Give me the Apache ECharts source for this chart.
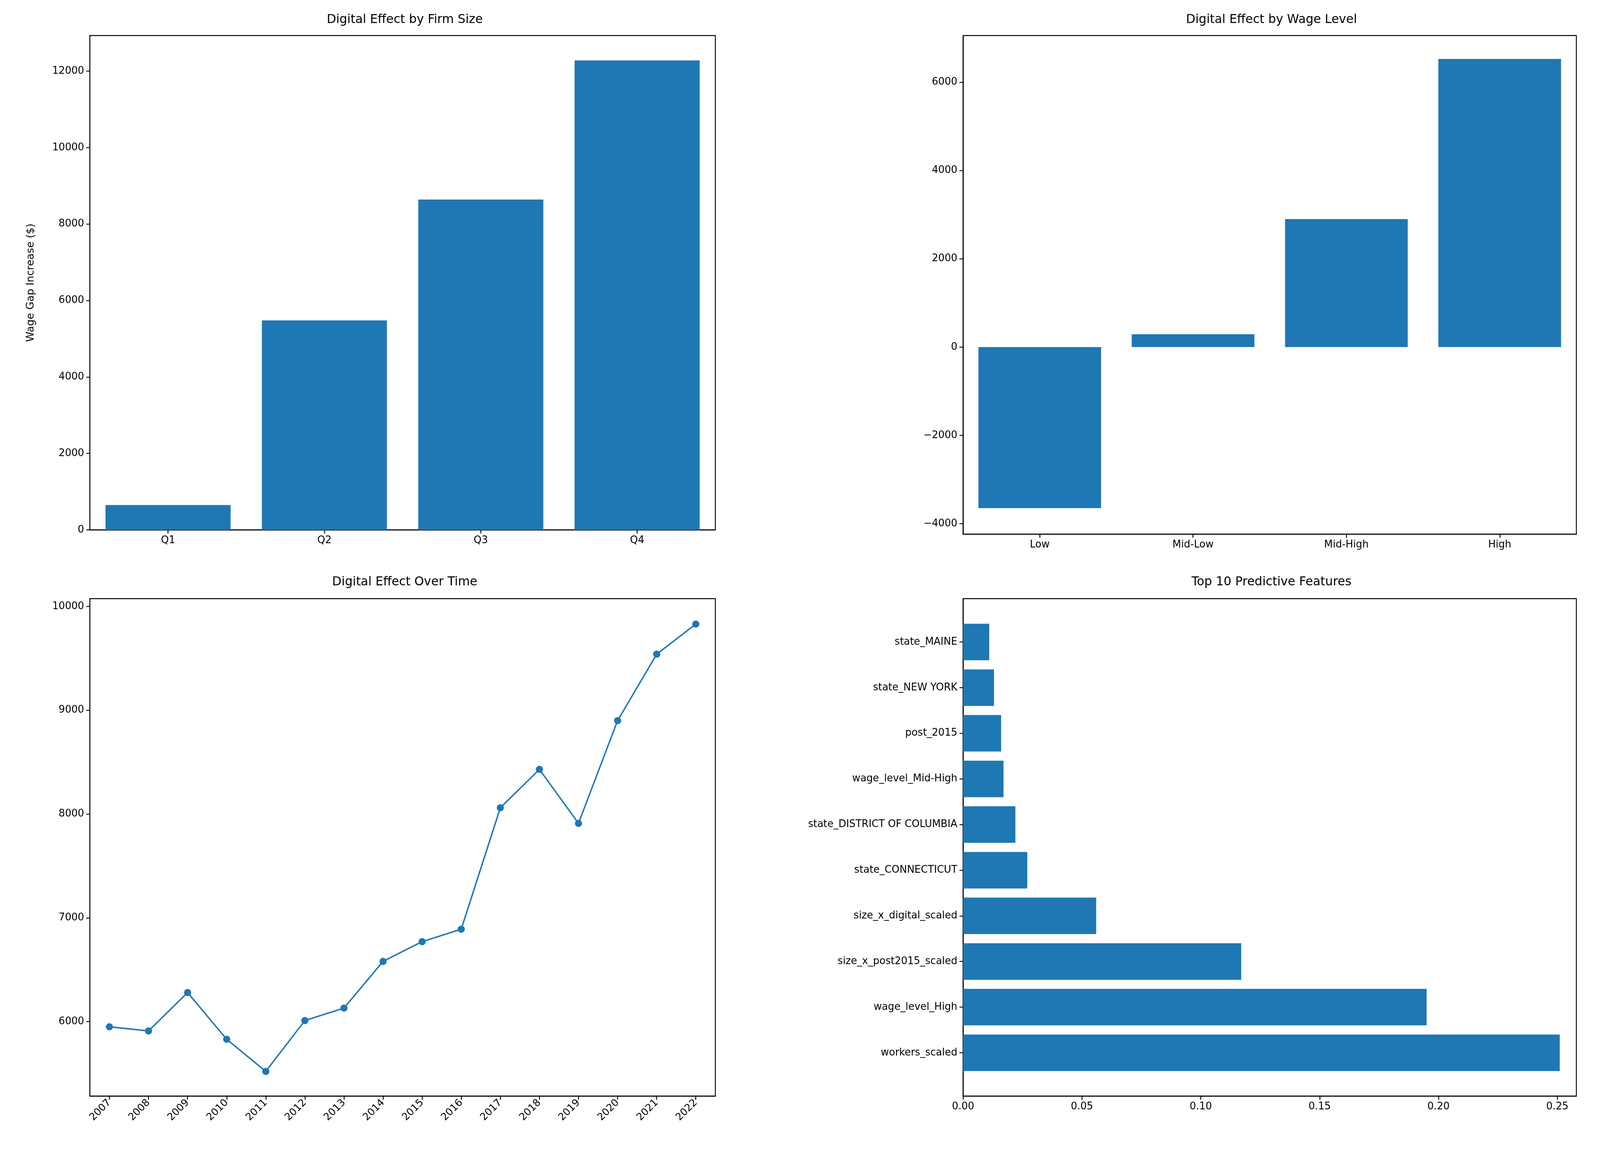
<!DOCTYPE html>
<html>
<head>
<meta charset="utf-8">
<script src="https://cdn.jsdelivr.net/npm/echarts@6/dist/echarts.min.js"></script>
<style>html,body{margin:0;padding:0;background:#fff;overflow:hidden}#main{width:100vw;height:100vh}</style>
</head>
<body>
<div id="main"></div>
<script>
var firmCats = ['Q1', 'Q2', 'Q3', 'Q4'];
var firmVals = [650, 5480, 8640, 12280];
var firmTicks = [0, 2000, 4000, 6000, 8000, 10000, 12000];
var wageCats = ['Low', 'Mid-Low', 'Mid-High', 'High'];
var wageVals = [-3650, 290, 2900, 6530];
var wageTicks = [-4000, -2000, 0, 2000, 4000, 6000];
var years = ['2007','2008','2009','2010','2011','2012','2013','2014','2015','2016','2017','2018','2019','2020','2021','2022'];
var yearVals = [5950, 5910, 6280, 5830, 5520, 6010, 6130, 6580, 6770, 6890, 8060, 8430, 7910, 8900, 9540, 9830];
var yearTicks = [6000, 7000, 8000, 9000, 10000];
var featNames = ['workers_scaled','wage_level_High','size_x_post2015_scaled','size_x_digital_scaled','state_CONNECTICUT','state_DISTRICT OF COLUMBIA','wage_level_Mid-High','post_2015','state_NEW YORK','state_MAINE'];
var featVals = [0.251, 0.195, 0.117, 0.056, 0.027, 0.022, 0.017, 0.016, 0.013, 0.011];
var featTicks = [0, 1, 2, 3, 4, 5, 6, 7, 8, 9];
var importanceTicks = [0, 0.05, 0.1, 0.15, 0.2, 0.25];

var blue = '#1f77b4';
var font = 'DejaVu Sans';
var el = document.getElementById('main');
var W = el.clientWidth, H = el.clientHeight;
var s = W / 4469, sy = H / 2968;
function px(v) { return v * s; }
function py(v) { return v * sy; }

var tickLabel = {color: '#000', fontSize: px(28), fontFamily: font, margin: px(16)};
var axisLine = {show: true, onZero: false, lineStyle: {color: '#000', width: px(2.5)}};
function ticks(vals) { return {show: true, length: px(10), customValues: vals, lineStyle: {color: '#000', width: px(2.5)}}; }
function labels(vals, extra) { return Object.assign({customValues: vals}, tickLabel, extra || {}); }
var frame = {show: true, borderColor: '#000', borderWidth: px(2.5), backgroundColor: 'transparent'};
function title(text, cx, top) {
    return {text: text, left: px(cx), top: py(top), textAlign: 'center',
        textStyle: {fontSize: px(34), fontWeight: 'normal', color: '#000', fontFamily: font}};
}
function minus(v) { return String(v).replace('-', '\u2212'); }

var myChart = echarts.init(el);
var option = {
    backgroundColor: '#fff',
    animation: false,
    title: [
        title('Digital Effect by Firm Size', 1125, 30),
        title('Digital Effect by Wage Level', 3546, 30),
        title('Digital Effect Over Time', 1125, 1470),
        title('Top 10 Predictive Features', 3546, 1470)
    ],
    grid: [
        Object.assign({left: px(251), width: px(1747), top: py(91), height: py(1266)}, frame),
        Object.assign({left: px(2690), width: px(1713), top: py(91), height: py(1277)}, frame),
        Object.assign({left: px(251), width: px(1747), top: py(1533), height: py(1274)}, frame),
        Object.assign({left: px(2690), width: px(1713), top: py(1533), height: py(1274)}, frame)
    ],
    xAxis: [
        {gridIndex: 0, type: 'category', data: firmCats, axisLine: axisLine, axisTick: {show: true, alignWithLabel: true, length: px(10), lineStyle: {color: '#000', width: px(2.5)}}, axisLabel: tickLabel},
        {gridIndex: 1, type: 'category', data: wageCats, axisLine: axisLine, axisTick: {show: true, alignWithLabel: true, length: px(10), lineStyle: {color: '#000', width: px(2.5)}}, axisLabel: tickLabel},
        {gridIndex: 2, type: 'category', data: years, boundaryGap: true, axisLine: axisLine, axisTick: {show: true, alignWithLabel: true, length: px(10), lineStyle: {color: '#000', width: px(2.5)}}, axisLabel: Object.assign({}, tickLabel, {rotate: 45, interval: 0, margin: px(14)})},
        {gridIndex: 3, type: 'value', min: 0, max: 0.258, splitLine: {show: false}, axisLine: axisLine, axisTick: ticks(importanceTicks),
            axisLabel: labels(importanceTicks, {formatter: function (v) { return v.toFixed(2); }})}
    ],
    yAxis: [
        {gridIndex: 0, type: 'value', min: 0, max: 12930, splitLine: {show: false}, axisLine: axisLine, axisTick: ticks(firmTicks),
            axisLabel: labels(firmTicks, {formatter: function (v) { return String(v); }}),
            name: 'Wage Gap Increase ($)', nameLocation: 'middle', nameGap: px(150), nameRotate: 90, nameTextStyle: {fontSize: px(29), color: '#000', fontFamily: font}},
        {gridIndex: 1, type: 'value', min: -4240, max: 7060, splitLine: {show: false}, axisLine: axisLine, axisTick: ticks(wageTicks),
            axisLabel: labels(wageTicks, {formatter: minus})},
        {gridIndex: 2, type: 'value', min: 5282, max: 10075, splitLine: {show: false}, axisLine: axisLine, axisTick: ticks(yearTicks),
            axisLabel: labels(yearTicks, {formatter: function (v) { return String(v); }})},
        {gridIndex: 3, type: 'value', min: -0.95, max: 9.95, splitLine: {show: false}, axisLine: axisLine, axisTick: ticks(featTicks),
            axisLabel: labels(featTicks, {formatter: function (v) { return featNames[Math.round(v)] || ''; }})}
    ],
    series: [
        {type: 'bar', xAxisIndex: 0, yAxisIndex: 0, data: firmVals, barCategoryGap: '20%', itemStyle: {color: blue}},
        {type: 'bar', xAxisIndex: 1, yAxisIndex: 1, data: wageVals, barCategoryGap: '20%', itemStyle: {color: blue}},
        {type: 'line', xAxisIndex: 2, yAxisIndex: 2, data: yearVals, symbol: 'circle', symbolSize: px(20),
            lineStyle: {color: blue, width: px(4)}, itemStyle: {color: blue}},
        {type: 'custom', xAxisIndex: 3, yAxisIndex: 3,
            data: featVals.map(function (v, i) { return [v, i]; }),
            renderItem: function (params, api) {
                var p0 = api.coord([0, api.value(1)]);
                var p1 = api.coord([api.value(0), api.value(1)]);
                var h = api.size([0, 0.8])[1];
                return {type: 'rect', shape: {x: p0[0], y: p0[1] - h / 2, width: p1[0] - p0[0], height: h},
                    style: {fill: blue}};
            }}
    ]
};
myChart.setOption(option);
</script>
</body>
</html>
